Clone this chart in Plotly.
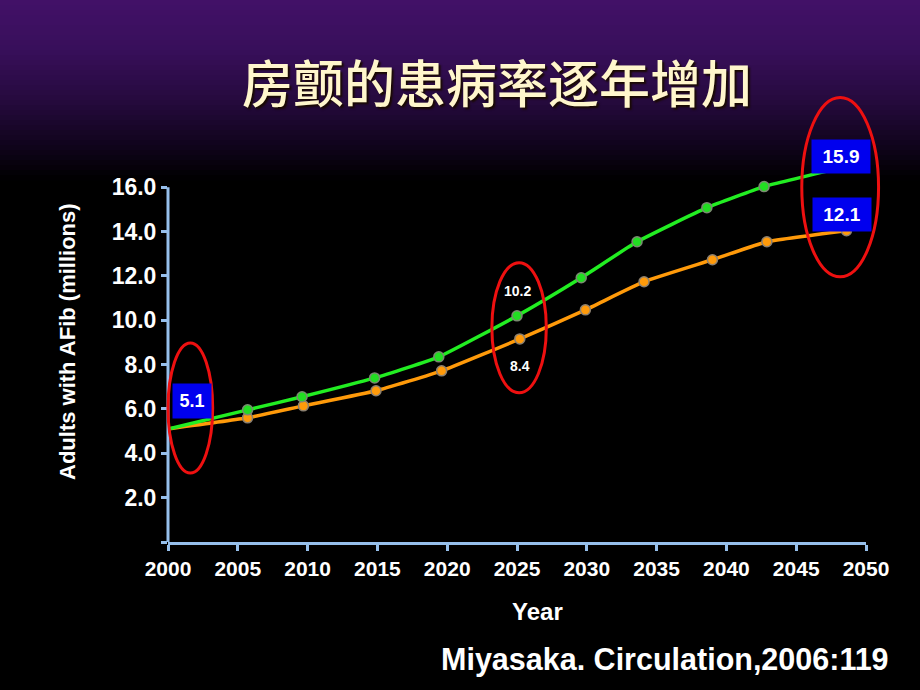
import plotly.graph_objects as go

# ---------------- data ----------------
years_green = [2000, 2005.7, 2009.6, 2014.8, 2019.4, 2025.0, 2029.6, 2033.6, 2038.6, 2042.7, 2048.6]
vals_green = [5.1, 5.96, 6.55, 7.40, 8.35, 10.2, 11.92, 13.54, 15.08, 16.03, 16.93]
years_orange = [2000, 2005.7, 2009.7, 2014.9, 2019.6, 2025.2, 2029.9, 2034.1, 2039.0, 2042.9, 2048.6]
vals_orange = [5.1, 5.60, 6.14, 6.82, 7.72, 9.16, 10.47, 11.74, 12.73, 13.54, 14.04]

x_ticks = [2000, 2005, 2010, 2015, 2020, 2025, 2030, 2035, 2040, 2045, 2050]
y_ticks = [0, 2, 4, 6, 8, 10, 12, 14, 16]
y_ticktext = ["", "2.0", "4.0", "6.0", "8.0", "10.0", "12.0", "14.0", "16.0"]

title_text = "房颤的患病率逐年增加"
y_title = "Adults with AFib (millions)"
x_title = "Year"
citation = "Miyasaka. Circulation,2006:119"
label_start = "5.1"
label_2025_green = "10.2"
label_2025_orange = "8.4"
label_end_green = "15.9"
label_end_orange = "12.1"

# ---------------- layout constants ----------------
W, H = 920, 690
ML, MR, MT, MB = 168, 54, 154, 148
XR = [2000, 2050]
YR = [0, 17.5]
PW, PH = W - ML - MR, H - MT - MB
AXIS_COLOR = "#96bfeb"
RED = "#ee1010"
BLUE = "#0000ee"
FONT = "Arial, Liberation Sans, sans-serif"


def px_x(p):
    return (p - ML) / PW


def px_y(p):
    return (H - MB - p) / PH


def dx(v):
    return (v - XR[0]) / (XR[1] - XR[0])


def dy(v):
    return (v - YR[0]) / (YR[1] - YR[0])


fig = go.Figure()

# lines
fig.add_trace(go.Scatter(x=years_orange, y=vals_orange, mode="lines",
                         line=dict(color="#ff9a0a", width=3.5, shape="spline", smoothing=0.4),
                         hoverinfo="skip", showlegend=False))
fig.add_trace(go.Scatter(x=years_green, y=vals_green, mode="lines",
                         line=dict(color="#22ee22", width=3.5, shape="spline", smoothing=0.4),
                         hoverinfo="skip", showlegend=False))
# markers
fig.add_trace(go.Scatter(x=years_orange[1:], y=vals_orange[1:], mode="markers",
                         marker=dict(color="#ff9a0a", size=10, line=dict(color="#8c8070", width=1.5)),
                         cliponaxis=False, showlegend=False))
fig.add_trace(go.Scatter(x=years_green[1:], y=vals_green[1:], mode="markers",
                         marker=dict(color="#22dd22", size=10, line=dict(color="#7a8a70", width=1.5)),
                         cliponaxis=False, showlegend=False))

shapes = []
# background gradient (purple top fading to black)
stops = [(0, (66, 17, 104)), (50, (56, 15, 90)), (100, (38, 10, 62)),
         (145, (16, 4, 28)), (180, (0, 0, 0))]
band = 5
for y0 in range(0, 180, band):
    yc = y0 + band / 2
    for (a, ca), (b, cb) in zip(stops[:-1], stops[1:]):
        if a <= yc <= b:
            t = (yc - a) / (b - a)
            c = tuple(int(round(ca[i] + (cb[i] - ca[i]) * t)) for i in range(3))
            break
    shapes.append(dict(type="rect", xref="paper", yref="paper", layer="below",
                       x0=px_x(0), x1=px_x(W), y0=px_y(y0 + band + 0.5), y1=px_y(y0),
                       fillcolor="rgb(%d,%d,%d)" % c, line=dict(width=0)))

# y axis line (0 to 16 only)
shapes.append(dict(type="line", xref="x domain", yref="y domain", x0=0, x1=0,
                   y0=dy(0), y1=dy(16), line=dict(color=AXIS_COLOR, width=3)))

# red ellipses around highlighted points
ellipses = [(2000.0, 2003.2, 3.11, 8.98),
            (2023.2, 2027.1, 6.73, 12.6),
            (2045.4, 2050.9, 11.96, 20.05)]
for x0, x1, y0, y1 in ellipses:
    shapes.append(dict(type="circle", xref="x domain", yref="y domain",
                       x0=dx(x0), x1=dx(x1), y0=dy(y0), y1=dy(y1),
                       line=dict(color=RED, width=3)))

annotations = [
    dict(text=title_text, xref="paper", yref="paper", x=px_x(497), y=px_y(81),
         xanchor="center", yanchor="middle", showarrow=False,
         font=dict(family="Noto Sans CJK SC", size=51, color="#fff6cc", weight=500,
                   shadow="2px 2px 2px #1a0a00")),
    dict(text=y_title, xref="paper", yref="paper", x=px_x(67), y=px_y(342),
         xanchor="center", yanchor="middle", textangle=-90, showarrow=False,
         font=dict(family=FONT, size=22, color="white", weight="bold")),
    dict(text=x_title, xref="paper", yref="paper", x=px_x(537), y=px_y(611),
         xanchor="center", yanchor="middle", showarrow=False,
         font=dict(family=FONT, size=24, color="white", weight="bold")),
    dict(text=citation, xref="paper", yref="paper", x=px_x(891), y=px_y(659),
         xanchor="right", yanchor="middle", showarrow=False,
         font=dict(family=FONT, size=30.5, color="white", weight="bold")),
    # blue callout boxes
    dict(text=label_start, x=years_green[0], y=vals_green[0], xref="x", yref="y",
         xanchor="left", yanchor="bottom", xshift=4, yshift=10, showarrow=False,
         bgcolor=BLUE, width=34, height=30, borderpad=2,
         font=dict(family=FONT, size=18, color="white", weight="bold")),
    dict(text=label_end_green, x=years_green[-1], y=vals_green[-1], xref="x", yref="y",
         xanchor="center", yanchor="middle", xshift=-5, yshift=10, showarrow=False,
         bgcolor=BLUE, width=54, height=29, borderpad=2,
         font=dict(family=FONT, size=19, color="white", weight="bold")),
    dict(text=label_end_orange, x=years_orange[-1], y=vals_orange[-1], xref="x", yref="y",
         xanchor="center", yanchor="middle", xshift=-4, yshift=16, showarrow=False,
         bgcolor=BLUE, width=54, height=29, borderpad=2,
         font=dict(family=FONT, size=19, color="white", weight="bold")),
    # small value labels at 2025
    dict(text=label_2025_green, x=years_green[5], y=vals_green[5], xref="x", yref="y",
         xanchor="center", yanchor="middle", yshift=25, showarrow=False,
         font=dict(family=FONT, size=14, color="white", weight="bold")),
    dict(text=label_2025_orange, x=years_orange[5], y=vals_orange[5], xref="x", yref="y",
         xanchor="center", yanchor="middle", yshift=-27, showarrow=False,
         font=dict(family=FONT, size=14, color="white", weight="bold")),
]

fig.update_layout(
    width=W, height=H,
    margin=dict(l=ML, r=MR, t=MT, b=MB, pad=0),
    paper_bgcolor="black", plot_bgcolor="rgba(0,0,0,0)",
    shapes=shapes, annotations=annotations, showlegend=False,
    xaxis=dict(range=XR, tickvals=x_ticks, ticktext=[str(v) for v in x_ticks],
               showline=True, linecolor=AXIS_COLOR, linewidth=3,
               ticks="outside", ticklen=6, tickwidth=2.5, tickcolor=AXIS_COLOR,
               showgrid=False, zeroline=False,
               tickfont=dict(family=FONT, size=21, color="white", weight="bold")),
    yaxis=dict(range=YR, tickvals=y_ticks, ticktext=y_ticktext,
               showline=False, ticks="outside", ticklen=6, tickwidth=2.5, tickcolor=AXIS_COLOR,
               showgrid=False, zeroline=False,
               tickfont=dict(family=FONT, size=23, color="white", weight="bold")),
)

fig.write_html("out.html",
               config={"displayModeBar": False},
               post_script="document.body.style.margin='0';document.body.style.background='black';")
